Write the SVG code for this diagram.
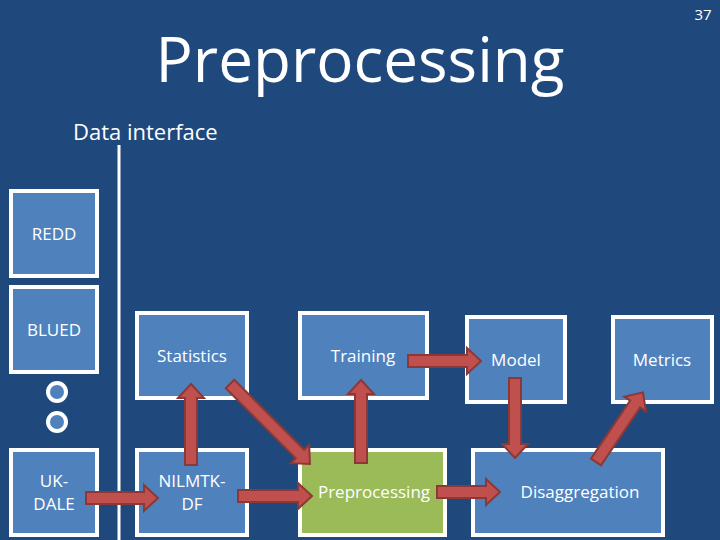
<svg xmlns="http://www.w3.org/2000/svg" width="720" height="540" viewBox="0 0 720 540">
<style>
.b{fill:#4f81bd;stroke:#fff;stroke-width:4}
.g{fill:#9bbb59;stroke:#fff;stroke-width:4}
text{font-family:"Open Sans","DejaVu Sans",sans-serif;fill:#fff}
.t{font-size:17px;text-anchor:middle}
.a{fill:#c0504d;stroke:#8c3836;stroke-width:2}
</style>
<rect width="720" height="540" fill="#1f497d"/>
<text x="360" y="82" font-size="62" text-anchor="middle">Preprocessing</text>
<text x="703" y="20" font-size="15" text-anchor="middle">37</text>
<text x="73" y="140" font-size="22">Data interface</text>
<line x1="119" y1="145" x2="119" y2="540" stroke="#fff" stroke-width="3"/>
<g id="redd"><rect class="b" x="11" y="191" width="86" height="85"/><text class="t" x="54" y="240">REDD</text></g>
<g id="blued"><rect class="b" x="11" y="287" width="86" height="85"/><text class="t" x="54" y="336">BLUED</text></g>
<g id="dots"><circle cx="57" cy="392" r="9" fill="#4f81bd" stroke="#fff" stroke-width="4"/><circle cx="57" cy="422" r="9" fill="#4f81bd" stroke="#fff" stroke-width="4"/></g>
<g id="ukdale"><rect class="b" x="11" y="450" width="86" height="85"/><text class="t" x="54" y="487">UK-</text><text class="t" x="54" y="510">DALE</text></g>
<g id="stats"><rect class="b" x="137" y="313" width="110" height="85"/><text class="t" x="192" y="362">Statistics</text></g>
<g id="nilmtk"><rect class="b" x="137" y="450" width="110" height="85"/><text class="t" x="192" y="487">NILMTK-</text><text class="t" x="192" y="510">DF</text></g>
<g id="training"><rect class="b" x="300" y="313" width="127" height="85"/><text class="t" x="363" y="362">Training</text></g>
<g id="prep"><rect class="g" x="300" y="450" width="145" height="85"/><text class="t" x="374" y="498">Preprocessing</text></g>
<g id="model"><rect class="b" x="467" y="317" width="98" height="85"/><text class="t" x="516" y="366">Model</text></g>
<g id="metrics"><rect class="b" x="613" y="317" width="99" height="85"/><text class="t" x="662" y="366">Metrics</text></g>
<g id="disagg"><rect class="b" x="473" y="450" width="190" height="85"/><text class="t" x="580" y="498">Disaggregation</text></g>
<g id="connectors">
<polygon class="a" transform="translate(86,498)" points="0,-6 58,-6 58,-13 72,0 58,13 58,6 0,6"/>
<polygon class="a" transform="translate(191,465) rotate(-90)" points="0,-6 67,-6 67,-13 81,0 67,13 67,6 0,6"/>
<polygon class="a" transform="translate(230,384) rotate(45)" points="0,-6 99,-6 99,-13 113,0 99,13 99,6 0,6"/>
<polygon class="a" transform="translate(238,496)" points="0,-6 60,-6 60,-13 74,0 60,13 60,6 0,6"/>
<polygon class="a" transform="translate(361,463) rotate(-90)" points="0,-6 69,-6 69,-13 83,0 69,13 69,6 0,6"/>
<polygon class="a" transform="translate(408,361)" points="0,-6 59,-6 59,-13 73,0 59,13 59,6 0,6"/>
<polygon class="a" transform="translate(515,378) rotate(90)" points="0,-6 66,-6 66,-13 80,0 66,13 66,6 0,6"/>
<polygon class="a" transform="translate(437,492)" points="0,-6 49,-6 49,-13 63,0 49,13 49,6 0,6"/>
<polygon class="a" transform="translate(596,462) rotate(-56)" points="0,-6 70,-6 70,-13 84,0 70,13 70,6 0,6"/>
</g>
</svg>
